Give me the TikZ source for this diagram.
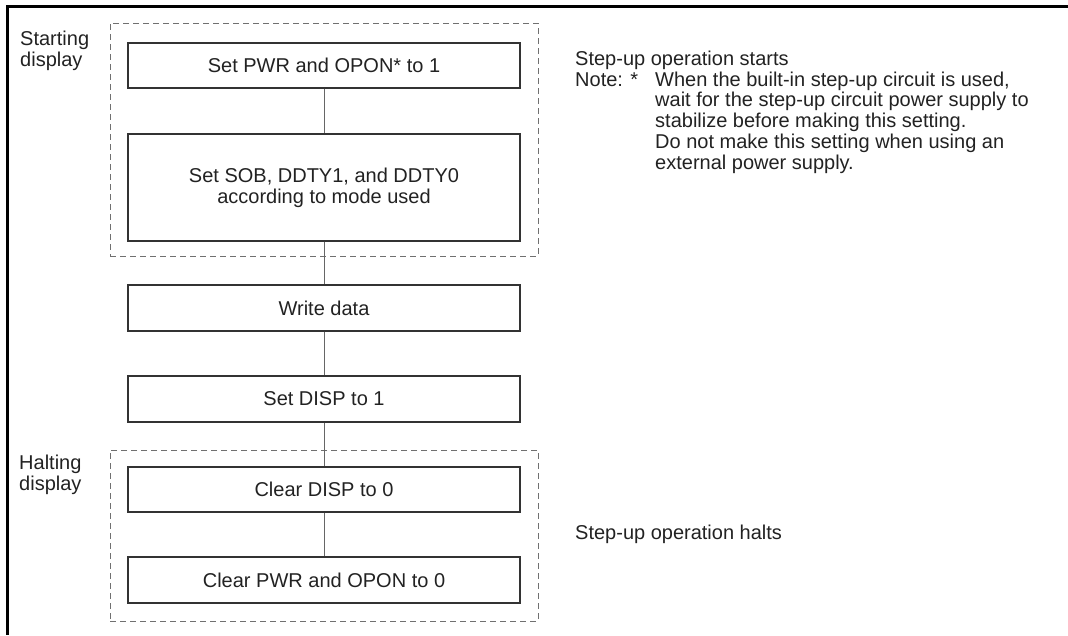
\documentclass[tikz,border=0pt]{standalone}
\usepackage{fontspec}
\setmainfont{Liberation Sans}
\newcommand\txtsz{\fontsize{20}{20.8}\selectfont}
\definecolor{ink}{HTML}{222222}
\definecolor{boxline}{HTML}{333333}
\definecolor{connline}{HTML}{666666}
\definecolor{grpline}{HTML}{707070}
\begin{document}
\begin{tikzpicture}[x=1pt,y=-1pt,
  stepbox/.style={draw=boxline, line width=1.4pt, minimum width=392pt, inner sep=0pt,
                  align=center, font=\txtsz, text=ink},
  grpbox/.style={draw=grpline, line width=0.9pt, dash pattern=on 6pt off 4pt, inner sep=0pt},
  conn/.style={draw=connline, line width=1pt},
  lbl/.style={font=\txtsz, text=ink, inner sep=0pt, align=left}
]
\useasboundingbox (0,0) rectangle (1068,635);
% outer frame
\draw[line width=3pt, line join=miter] (1068,6.5) -- (7,6.5) -- (7,635);
% group boxes
\node[grpbox, minimum width=428pt, minimum height=233pt] (g1) at (324,139.5) {};
\node[grpbox, minimum width=428pt, minimum height=171pt] (g2) at (324,535.5) {};
% steps
\node[stepbox, minimum height=45pt] (b1) at (324,65.5) {Set PWR and OPON* to 1};
\node[stepbox, minimum height=107pt] (b2) at (324,187.5) {Set SOB, DDTY1, and DDTY0\\according to mode used};
\node[stepbox, minimum height=46pt] (b3) at (324,308) {Write data};
\node[stepbox, minimum height=46pt] (b4) at (324,399) {Set DISP to 1};
\node[stepbox, minimum height=45pt] (b5) at (324,489.5) {Clear DISP to 0};
\node[stepbox, minimum height=46pt] (b6) at (324,580) {Clear PWR and OPON to 0};
% connectors
\draw[conn] (b1) -- (b2);
\draw[conn] (b2) -- (b3);
\draw[conn] (b3) -- (b4);
\draw[conn] (b4) -- (b5);
\draw[conn] (b5) -- (b6);
% side labels (base anchor = last line's baseline)
\node[lbl, anchor=base west] (ls) at (20,66) {Starting\\display};
\node[lbl, anchor=base west] (lh) at (19,490) {Halting\\display};
% notes
\node[lbl, anchor=base west] (n1) at (575,65) {Step-up operation starts};
\node[lbl, anchor=base west] (n2) at (575,86) {Note: *};
\node[lbl, anchor=base west] (n3) at (655,169.2) {When the built-in step-up circuit is used,\\wait for the step-up circuit power supply to\\stabilize before making this setting.\\Do not make this setting when using an\\external power supply.};
\node[lbl, anchor=base west] (n4) at (575,539) {Step-up operation halts};
\end{tikzpicture}
\end{document}
